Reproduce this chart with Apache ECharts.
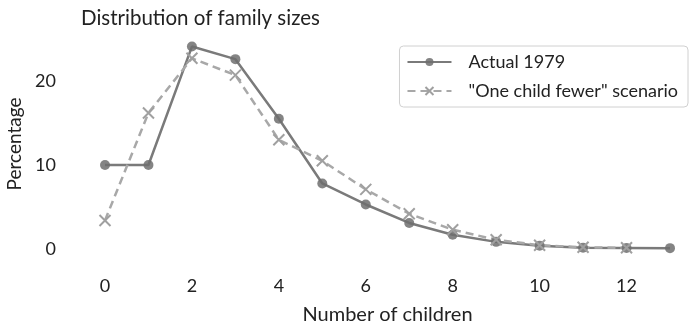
<!DOCTYPE html>
<html><head><meta charset="utf-8">
<script src="https://cdn.jsdelivr.net/npm/echarts@6/dist/echarts.min.js"></script>
<style>html,body{margin:0;padding:0;background:#fff}#c{width:696px;height:330px}</style>
</head><body><div id="c"></div>
<script>
const children = [0,1,2,3,4,5,6,7,8,9,10,11,12,13];
const actual1979 = [10.0,10.0,24.1,22.6,15.5,7.8,5.3,3.1,1.7,0.85,0.4,0.15,0.12,0.1];
const oneChildFewer = [3.4,16.2,22.7,20.7,13.0,10.5,7.1,4.2,2.3,1.1,0.45,0.2,0.15];
const xTicks = [0,2,4,6,8,10,12];
const yTicks = [0,10,20];

const FONT = 'Lato';
const chart = echarts.init(document.getElementById('c'));
const xSym = 'path://M0,0L10,10M10,0L0,10';
chart.setOption({
  animation:false,
  textStyle:{fontFamily:FONT},
  title:{text:'Distribution of family sizes',left:76,top:3,textStyle:{fontFamily:FONT,fontSize:20.5,fontWeight:'normal',color:'#222'}},
  legend:{
    orient:'vertical', right:8, top:46, padding:[7,10,7,7],
    borderColor:'#d0d0d0', borderWidth:1, borderRadius:4,
    itemWidth:44, itemHeight:10, itemGap:11,
    textStyle:{fontFamily:FONT,fontSize:18,color:'#222',lineHeight:18,padding:[0,0,0,12]},
    data:['Actual 1979','"One child fewer" scenario']
  },
  grid:{left:105,right:26,top:39,bottom:81,containLabel:false,outerBoundsMode:'none'},
  xAxis:{type:'value',min:0,max:13,
    axisLine:{show:false},axisTick:{show:false},splitLine:{show:false},
    axisLabel:{customValues:xTicks,margin:28,fontFamily:FONT,fontSize:18,color:'#222'},
    name:'Number of children',nameLocation:'middle',nameGap:56,
    nameTextStyle:{fontFamily:FONT,fontSize:20,color:'#222'}},
  yAxis:{type:'value',min:0,max:25,
    axisLine:{show:false},axisTick:{show:false},splitLine:{show:false},
    axisLabel:{customValues:yTicks,margin:49,fontFamily:FONT,fontSize:18,color:'#222'},
    name:'Percentage',nameLocation:'middle',nameGap:80,
    nameTextStyle:{fontFamily:FONT,fontSize:19,color:'#222'}},
  series:[
    {name:'Actual 1979',type:'line',clip:false,
     data:children.map((x,i)=>[x,actual1979[i]]),
     symbol:'circle',symbolSize:10,
     lineStyle:{color:'#7a7a7a',width:2.5},
     itemStyle:{color:'rgba(110,110,110,0.85)'}},
    {name:'"One child fewer" scenario',type:'line',clip:false,
     data:oneChildFewer.map((v,i)=>[children[i],v]),
     symbol:xSym,symbolSize:11,
     lineStyle:{color:'#a8a8a8',width:2.5,type:[8,5]},
     itemStyle:{color:'#a0a0a0',borderColor:'#a0a0a0',borderWidth:2}}
  ]
});
</script></body></html>
